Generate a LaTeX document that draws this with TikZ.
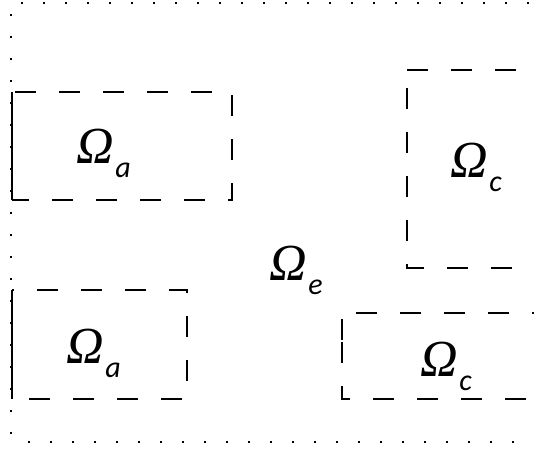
\documentclass[tikz,border=0pt]{standalone}
\usepackage{fontspec}
\newfontfamily\omfont{Liberation Serif}
\newfontfamily\subfont{Carlito}
\newcommand{\omlab}[1]{{\omfont\itshape\fontsize{52}{52}\selectfont Ω}\kern1.5pt\raisebox{-14pt}{\subfont\itshape\fontsize{30}{30}\selectfont #1}}
\begin{document}
\begin{tikzpicture}[x=1pt,y=-1pt,
  dots/.style={line width=2.2pt,line cap=rect,dash pattern=on 0.01pt off 21.99pt},
  dbox/.style={line width=1.6pt,dash pattern=on 21pt off 23pt},
  sbox/.style={line width=1.6pt},
  lab/.style={inner sep=0pt,anchor=base west}]
\useasboundingbox (0,0) rectangle (534,450);
\clip (0,0) rectangle (534,450);
% outer dotted boundary
\draw[dots] (22,3) -- (545,3);
\draw[dots] (11,15) -- (11,440);
\draw[dots] (29,442) -- (545,442);
% box A1
\draw[dbox,dash phase=-3pt] (12,92) -- (232,92) -- (232,200) -- (12,200);
\draw[sbox] (12,92) -- (12,200);
% box A2
\draw[dbox,dash phase=-25pt] (12,290) -- (187,290) -- (187,399) -- (12,399);
\draw[sbox] (12,290) -- (12,399);
% box C1
\draw[dbox,dash phase=-18pt] (407,88) -- (407,70) -- (560,70);
\draw[dbox,dash phase=0pt] (407,88) -- (407,268) -- (560,268);
% box C2
\draw[dbox,dash phase=-14pt] (342,313) -- (560,313);
\draw[dbox,dash phase=-2pt] (342,342) -- (342,313);
\draw[dbox,dash phase=0pt] (342,342) -- (342,399) -- (560,399);
% labels
\node[lab] (la1) at (76,163) {\omlab{a}};
\node[lab] (lc1) at (450,177) {\omlab{c}};
\node[lab] (la2) at (66,363) {\omlab{a}};
\node[lab] (lc2) at (420,376) {\omlab{c}};
\node[lab] (le) at (269,280) {\omlab{e}};
\end{tikzpicture}
\end{document}
